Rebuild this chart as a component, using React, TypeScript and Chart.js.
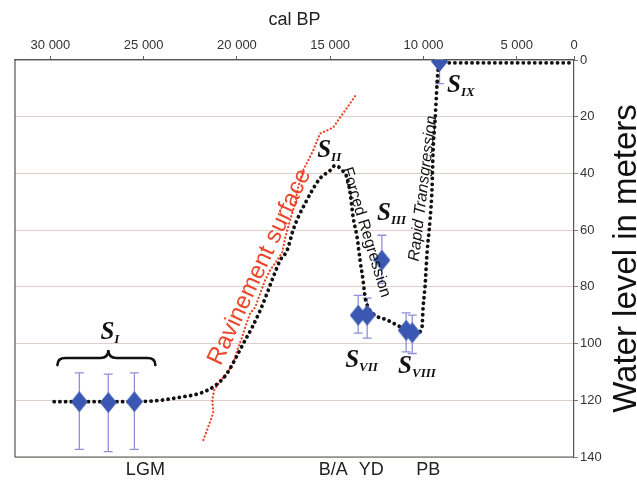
import { useEffect, useRef } from 'react';
import { Chart, registerables } from 'chart.js';

Chart.register(...registerables);

// ---- axis ranges / ticks ----
const X_MIN = 1930; // right edge of the plot, labelled "0" in the source figure
const X_MAX = 31900;
const xTickValues = [30000, 25000, 20000, 15000, 10000, 5000];
const xTickLabels = ['30 000', '25 000', '20 000', '15 000', '10 000', '5 000', '0'];
const yTickStep = 20;

// ---- modelled sea-level curve (black dotted) ----
const modelAge = [29800, 27300, 24650, 23040, 21970, 21270, 20730, 20360, 19930, 19560, 19180, 18750, 18380, 18060, 17680, 17310, 16990, 16720, 16340, 15970, 15540, 15000, 14740, 14360, 14090, 13930, 13770, 13560, 13400, 13240, 13130, 12970, 12590, 11950, 11420, 10880, 10340, 10080, 10020, 9920, 9810, 9650, 9540, 9490, 9380, 9220, 9110, 1950];
const modelDepth = [120.5, 120.5, 120.3, 118.9, 117.5, 115.3, 112.2, 108.7, 103.4, 98.8, 94.2, 88.2, 82.2, 76.6, 70.6, 67.1, 60.0, 55.5, 50.5, 46.0, 41.7, 38.9, 37.2, 38.9, 41.7, 47.0, 55.5, 62.5, 70.6, 77.7, 83.6, 87.2, 90.0, 91.7, 93.5, 95.3, 96.3, 94.2, 87.2, 80.1, 68.2, 56.5, 44.9, 32.9, 21.3, 3.7, 1.0, 1.0];

// ---- ravinement surface (red dotted) ----
const ravAge = [21800, 21540, 21270, 21320, 21220, 20900, 20520, 20200, 19930, 19720, 19560, 19290, 19020, 18750, 18490, 18220, 17840, 17570, 17410, 17150, 16880, 16720, 16450, 16180, 15910, 15700, 15540, 15160, 14840, 14580, 14200, 13830, 13560];
const ravDepth = [134.0, 129.4, 124.5, 119.9, 116.4, 113.2, 110.4, 106.9, 101.3, 97.7, 94.2, 89.3, 87.2, 82.2, 77.7, 74.1, 70.6, 67.8, 62.5, 56.5, 50.5, 44.9, 38.9, 35.4, 31.9, 28.4, 25.9, 24.8, 23.8, 21.3, 17.8, 14.3, 11.8];

// ---- dated samples (blue diamonds with error bars) ----
const sampleAge = [28450, 26900, 25500, 13500, 13020, 12230, 10930, 10600, 9140];
const sampleDepth = [120.5, 120.8, 120.5, 90.0, 90.0, 70.6, 95.3, 96.2, 0.5];
const sampleErrTop = [110.3, 110.8, 110.3, 83.0, 84.0, 61.8, 89.2, 90.0, 0.0];
const sampleErrBottom = [137.3, 138.1, 137.3, 96.3, 98.1, 78.8, 102.9, 103.5, 8.3];

// ---- stage labels S with roman subscripts ----
const stageMain = ['S', 'S', 'S', 'S', 'S', 'S'];
const stageSub = ['I', 'II', 'III', 'VII', 'VIII', 'IX'];
const stageAge = [27320, 15700, 12490, 14200, 11360, 8740];
const stageDepth = [98.4, 34.3, 56.5, 108.3, 110.4, 11.4];

// ---- brace above S_I samples ----
const braceAge = [29625, 26894, 24376];
const braceDepth = [107.6, 105.1, 102.3]; // end, shoulder, tip

// ---- rotated notes ----
const noteText = ['Ravinement surface', 'Forced Regression', 'Rapid Transgression'];
const noteAge = [18780, 13075, 10020];
const noteDepth = [73, 60.8, 45.3];
const noteAngle = [-65, 73, -83];

// ---- climatic events on the bottom ----
const eventAge = [24910, 14840, 12800, 9750];
const eventLabels = ['LGM', 'B/A', 'YD', 'PB'];

const SANS = '"Liberation Sans", Arial, sans-serif';
const SERIF = '"Liberation Serif", "Times New Roman", serif';

export default function App() {
  const ref = useRef<HTMLCanvasElement>(null);

  useEffect(() => {
    document.body.style.margin = '0';
    const canvas = ref.current;
    if (!canvas) return;

    const diamond = document.createElement('canvas');
    diamond.width = 17;
    diamond.height = 21;
    const dctx = diamond.getContext('2d')!;
    dctx.fillStyle = '#3a58b2';
    dctx.beginPath();
    dctx.moveTo(8.5, 0);
    dctx.lineTo(17, 10.5);
    dctx.lineTo(8.5, 21);
    dctx.lineTo(0, 10.5);
    dctx.closePath();
    dctx.fill();

    const overlay = {
      id: 'overlay',
      beforeDatasetsDraw(chart: any) {
        const { ctx } = chart;
        const xs = chart.scales.x;
        const ys = chart.scales.y;
        ctx.save();
        ctx.strokeStyle = '#8e90d8';
        ctx.lineWidth = 1.3;
        for (let i = 0; i < sampleAge.length; i++) {
          const px = xs.getPixelForValue(sampleAge[i]);
          const p1 = ys.getPixelForValue(sampleErrTop[i]);
          const p2 = ys.getPixelForValue(sampleErrBottom[i]);
          ctx.beginPath();
          ctx.moveTo(px, p1);
          ctx.lineTo(px, p2);
          ctx.moveTo(px - 4.5, p1);
          ctx.lineTo(px + 4.5, p1);
          ctx.moveTo(px - 4.5, p2);
          ctx.lineTo(px + 4.5, p2);
          ctx.stroke();
        }
        ctx.restore();
      },
      afterDatasetsDraw(chart: any) {
        const { ctx, chartArea } = chart;
        const xs = chart.scales.x;
        const ys = chart.scales.y;
        ctx.save();
        // left & bottom frame
        ctx.strokeStyle = '#555';
        ctx.lineWidth = 1.2;
        ctx.beginPath();
        ctx.moveTo(chartArea.left, chartArea.top);
        ctx.lineTo(chartArea.left, chartArea.bottom);
        ctx.lineTo(chartArea.right, chartArea.bottom);
        ctx.stroke();

        // stage labels
        ctx.fillStyle = '#111';
        ctx.textAlign = 'left';
        ctx.textBaseline = 'alphabetic';
        for (let i = 0; i < stageMain.length; i++) {
          const px = xs.getPixelForValue(stageAge[i]);
          const py = ys.getPixelForValue(stageDepth[i]);
          ctx.font = `italic bold 25px ${SERIF}`;
          ctx.fillText(stageMain[i], px, py);
          const w = ctx.measureText(stageMain[i]).width;
          ctx.font = `italic bold 13px ${SERIF}`;
          ctx.fillText(stageSub[i], px + w, py + 4);
        }

        // brace
        const bx0 = xs.getPixelForValue(braceAge[0]);
        const bxm = xs.getPixelForValue(braceAge[1]);
        const bx1 = xs.getPixelForValue(braceAge[2]);
        const yEnd = ys.getPixelForValue(braceDepth[0]);
        const yMid = ys.getPixelForValue(braceDepth[1]);
        const yTip = ys.getPixelForValue(braceDepth[2]);
        const q = 8;
        ctx.strokeStyle = '#111';
        ctx.lineWidth = 2.6;
        ctx.lineCap = 'round';
        ctx.beginPath();
        ctx.moveTo(bx0, yEnd);
        ctx.quadraticCurveTo(bx0, yMid, bx0 + q, yMid);
        ctx.lineTo(bxm - q, yMid);
        ctx.quadraticCurveTo(bxm, yMid, bxm, yTip);
        ctx.quadraticCurveTo(bxm, yMid, bxm + q, yMid);
        ctx.lineTo(bx1 - q, yMid);
        ctx.quadraticCurveTo(bx1, yMid, bx1, yEnd);
        ctx.stroke();

        // rotated notes
        const noteFont = [`24px ${SANS}`, `16px ${SANS}`, `italic 16px ${SANS}`];
        const noteColor = ['#e8482c', '#111', '#111'];
        for (let i = 0; i < noteText.length; i++) {
          const px = xs.getPixelForValue(noteAge[i]);
          const py = ys.getPixelForValue(noteDepth[i]);
          ctx.save();
          ctx.translate(px, py);
          ctx.rotate((noteAngle[i] * Math.PI) / 180);
          ctx.font = noteFont[i];
          ctx.fillStyle = noteColor[i];
          ctx.textAlign = 'center';
          ctx.textBaseline = 'middle';
          ctx.fillText(noteText[i], 0, 0);
          ctx.restore();
        }
        ctx.restore();
      },
      afterDraw(chart: any) {
        const { ctx, chartArea } = chart;
        ctx.save();
        ctx.translate(636, (chartArea.top + chartArea.bottom) / 2);
        ctx.rotate(-Math.PI / 2);
        ctx.font = `33px ${SANS}`;
        ctx.fillStyle = '#111';
        ctx.textAlign = 'center';
        ctx.textBaseline = 'alphabetic';
        ctx.fillText('Water level in meters', 0, 0);
        ctx.restore();
      },
    };

    const chart = new Chart(canvas, {
      type: 'scatter',
      data: {
        datasets: [
          {
            label: 'samples',
            data: sampleAge.map((x, i) => ({ x, y: sampleDepth[i] })),
            pointStyle: diamond as any,
            pointRadius: 9,
            showLine: false,
            order: 0,
          },
          {
            label: 'model',
            data: modelAge.map((x, i) => ({ x, y: modelDepth[i] })),
            showLine: true,
            borderColor: '#111',
            borderWidth: 3.8,
            borderDash: [0.1, 5.6],
            borderCapStyle: 'round',
            pointRadius: 0,
            cubicInterpolationMode: 'monotone',
            order: 1,
          } as any,
          {
            label: 'ravinement',
            data: ravAge.map((x, i) => ({ x, y: ravDepth[i] })),
            showLine: true,
            borderColor: '#e8482c',
            borderWidth: 2.3,
            borderDash: [0.1, 3.6],
            borderCapStyle: 'round',
            pointRadius: 0,
            tension: 0,
            order: 2,
          } as any,
        ],
      },
      options: {
        responsive: false,
        animation: false,
        layout: { padding: { left: 15, right: 0, top: 0, bottom: 0 } },
        plugins: { legend: { display: false }, tooltip: { enabled: false } },
        scales: {
          x: {
            type: 'linear',
            position: 'top',
            min: X_MIN,
            max: X_MAX,
            reverse: true,
            bounds: 'data',
            afterBuildTicks: (s: any) => {
              s.ticks = xTickValues.concat([X_MIN]).map((v) => ({ value: v }));
            },
            afterFit: (s: any) => {
              s.height = 60;
            },
            ticks: {
              callback: (_v: any, i: number) => xTickLabels[i],
              autoSkip: false,
              maxRotation: 0,
              font: { family: SANS, size: 13 },
              color: '#333',
              padding: 3,
            },
            grid: { drawOnChartArea: false, tickLength: 4, color: '#666' },
            border: { color: '#555', width: 1.2 },
            title: {
              display: true,
              text: 'cal BP',
              font: { family: SANS, size: 18 },
              color: '#222',
              padding: { top: 9, bottom: 0 },
            },
          },
          x2: {
            type: 'linear',
            position: 'bottom',
            min: X_MIN,
            max: X_MAX,
            reverse: true,
            bounds: 'data',
            afterBuildTicks: (s: any) => {
              s.ticks = eventAge.map((v) => ({ value: v }));
            },
            afterFit: (s: any) => {
              s.height = 27;
            },
            ticks: {
              callback: (_v: any, i: number) => eventLabels[i],
              autoSkip: false,
              maxRotation: 0,
              font: { family: SANS, size: 18 },
              color: '#222',
              padding: 2,
            },
            grid: { display: false, drawTicks: false },
            border: { display: false },
          },
          y: {
            type: 'linear',
            position: 'right',
            min: 0,
            max: 140,
            reverse: true,
            afterFit: (s: any) => {
              s.width = 63;
            },
            ticks: {
              stepSize: yTickStep,
              font: { family: SANS, size: 13 },
              color: '#333',
              padding: 2,
            },
            grid: { color: '#dfcfc8', tickColor: '#777', tickLength: 4, lineWidth: 1 },
            border: { color: '#555', width: 1.2 },
          },
        },
      } as any,
      plugins: [overlay],
    });

    return () => chart.destroy();
  }, []);

  return (
    <div style={{ width: 637, height: 484 }}>
      <canvas ref={ref} width={637} height={484} style={{ display: 'block' }} />
    </div>
  );
}
